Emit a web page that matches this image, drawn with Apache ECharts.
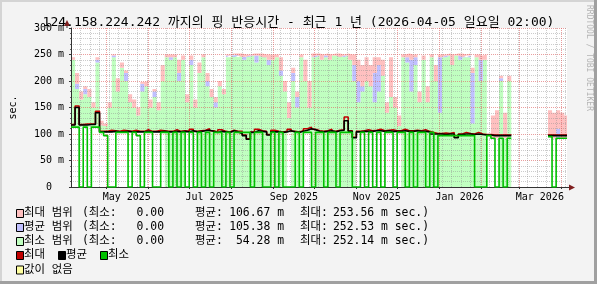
<!DOCTYPE html>
<html><head><meta charset="utf-8">
<script src="https://cdn.jsdelivr.net/npm/echarts@6/dist/echarts.min.js"></script>
<style>html,body{margin:0;padding:0;background:#f3f3f3}#c{width:597px;height:284px}</style>
</head><body><div id="c"></div>
<script>
// ---- data (one value per 3-day bucket starting 2025-04-05) ----
const startDate = [2025, 3, 5];
const dayCount = 366;
const bucketDays = 3;
const xTickLabels = ['May 2025', 'Jul 2025', 'Sep 2025', 'Nov 2025', 'Jan 2026', 'Mar 2026'];
const yTickValues = [0, 50, 100, 150, 200, 250, 300];

const rangeLow = [113,113,113,113,113,113,113,103,103,103,103,103,103,103,103,103,103,103,103,103,103,103,103,0,0,0,0,0,103,103,103,0,0,0,0,0,0,0,0,0,0,0,0,0,0,0,0,0,0,0,0,0,0,103,0,0,0,103,103,0,0,0,0,0,0,0,0,0,0,0,103,103,103,103,103,103,103,103,103,103,103,0,0,0,0,0,0,0,0,0,0,0,0,0,0,0,0,0,0,0,0,0,97,92,92,0,0,0,null,null,null,null,null,null,null,null,null,95,92,92,92,92];
const minRangeTop = [240,185,165,175,170,150,235,118,115,150,245,180,225,200,160,150,135,180,190,150,170,145,200,245,240,245,200,240,160,230,150,215,245,190,170,150,190,175,245,248,245,248,240,246,248,235,248,245,230,240,245,210,180,130,200,150,245,200,150,245,248,240,245,240,248,248,245,248,240,200,160,180,200,190,160,180,210,140,170,150,115,245,235,180,230,160,240,160,245,200,140,245,248,230,248,240,245,245,120,245,200,240,97,92,92,200,92,200,null,null,null,null,null,null,null,null,null,95,92,92,92,92];
const avgRangeTop = [240,195,165,185,170,150,240,118,115,150,248,180,225,215,160,150,135,195,190,150,180,145,200,245,245,245,215,240,160,240,150,215,245,200,170,160,190,175,248,248,250,248,245,246,248,248,248,245,240,240,245,220,180,130,215,170,245,200,150,245,248,240,248,240,248,248,245,248,240,230,200,190,200,190,215,230,210,140,170,150,115,245,245,240,245,160,240,160,245,200,245,245,248,230,248,248,245,248,215,245,240,240,97,92,92,205,92,200,null,null,null,null,null,null,null,null,null,95,92,110,92,92];
const maxRangeTop = [245,215,180,190,185,160,245,125,120,160,250,205,235,220,175,165,150,198,200,165,185,160,230,250,250,250,240,248,175,248,165,235,250,215,185,170,200,185,250,252,252,252,250,250,252,252,252,250,250,250,250,245,200,160,225,180,250,240,200,252,252,250,252,250,252,252,250,252,250,250,240,230,245,230,245,245,240,160,245,170,135,250,252,250,250,180,248,190,250,230,250,250,252,250,252,252,250,252,225,250,248,250,97,135,145,210,140,210,null,null,null,null,null,null,null,null,null,145,140,145,140,135];
const minLine = [113,113,0,113,0,113,113,103,97,0,0,103,103,103,0,103,97,0,103,103,0,0,103,103,0,103,0,103,0,103,0,103,0,103,0,103,103,0,103,0,103,103,103,103,0,103,103,0,0,103,0,103,0,0,0,103,0,103,103,0,103,103,0,103,103,0,103,103,103,0,0,103,0,103,0,103,0,103,103,0,103,103,0,103,0,103,103,0,103,0,97,97,97,97,97,97,97,97,97,0,0,0,97,92,0,92,0,92,null,null,null,null,null,null,null,null,null,95,0,92,92,92];
const avgLine = [117,150,117,117,118,118,140,104,104,104,105,104,104,105,104,104,104,104,105,104,104,104,105,104,104,105,104,105,104,106,104,105,106,107,105,103,105,104,103,106,104,101,97,90,103,106,105,104,98,104,104,103,104,106,104,103,105,107,110,108,105,104,105,106,104,106,107,125,105,93,104,105,105,105,106,106,105,106,105,105,105,106,105,105,106,105,105,104,100,100,100,99,100,100,93,99,100,100,99,100,99,98,98,97,97,97,97,97,null,null,null,null,null,null,null,null,null,97,97,97,97,97];
const maxLine = [118,153,118,119,119,119,143,105,105,107,106,105,107,106,105,107,105,105,108,105,105,107,106,105,105,108,105,106,105,109,105,106,107,110,106,104,108,105,104,107,105,105,98,91,104,109,106,105,99,107,105,104,105,109,105,104,106,110,113,109,106,105,106,109,105,107,108,132,106,94,105,106,108,106,107,109,106,107,108,106,106,109,106,106,107,106,108,105,103,101,101,102,101,103,94,100,103,101,100,103,100,99,99,98,98,98,98,98,null,null,null,null,null,null,null,null,null,98,98,98,98,98];

const legendRows = ['최대 범위', '평균 범위', '최소 범위'];
const statMin = ['0.00', '0.00', '0.00'];
const statAvg = ['106.67 m', '105.38 m', '54.28 m'];
const statMax = ['253.56 m sec.)', '252.53 m sec.)', '252.14 m sec.)'];
const titleText = '124.158.224.242 까지의 핑 반응시간 - 최근 1 년 (2026-04-05 일요일 02:00)';

// ---- build ----
const MONTHS = ['Jan','Feb','Mar','Apr','May','Jun','Jul','Aug','Sep','Oct','Nov','Dec'];
const t0 = Date.UTC(startDate[0], startDate[1], startDate[2]);
const cats = [];
for (let i = 0; i < dayCount; i++) cats.push(new Date(t0 + i * 86400000).toISOString().slice(0, 10));
const labelDates = xTickLabels.map(t => {
  const [m, y] = t.split(' ');
  return y + '-' + String(MONTHS.indexOf(m) + 1).padStart(2, '0') + '-16';
});
function pts(arr) {
  const out = arr.map((v, i) => [i * bucketDays, v]);
  out.push([dayCount - 1, arr[arr.length - 1]]);
  return out;
}
function diff(a, b) { return a.map((v, i) => (v == null || b[i] == null) ? null : v - b[i]); }

const FONT = "'DejaVu Sans Mono', 'Noto Sans CJK KR', monospace";
const COLORS = { maxR: '#ffc0c0', avgR: '#c0c0ff', minR: '#c0ffc0', max: '#c00000', avg: '#000000', min: '#00c000', none: '#ffffa0' };

const areaBase = { type: 'line', stack: 'r', step: 'end', symbol: 'none', silent: true, z: 2,
  lineStyle: { opacity: 0, width: 0 }, connectNulls: false, animation: false };

const graphics = [];
// frame
graphics.push({ type: 'rect', shape: { x: 0, y: 0, width: 597, height: 2 }, style: { fill: '#d4d4d4' }, silent: true });
graphics.push({ type: 'rect', shape: { x: 0, y: 0, width: 2, height: 284 }, style: { fill: '#d4d4d4' }, silent: true });
graphics.push({ type: 'rect', shape: { x: 0, y: 281, width: 597, height: 3 }, style: { fill: '#a0a0a0' }, silent: true });
graphics.push({ type: 'rect', shape: { x: 594, y: 0, width: 3, height: 284 }, style: { fill: '#a0a0a0' }, silent: true });
// axis extensions + arrows
graphics.push({ type: 'line', shape: { x1: 67, y1: 28, x2: 67, y2: 24 }, style: { stroke: '#333', lineWidth: 1 }, z: 5 });
graphics.push({ type: 'polygon', shape: { points: [[64, 26], [70, 26], [67, 20]] }, style: { fill: '#7f1f1f' }, z: 6 });
graphics.push({ type: 'line', shape: { x1: 567, y1: 187.5, x2: 570, y2: 187.5 }, style: { stroke: '#333', lineWidth: 1 }, z: 5 });
graphics.push({ type: 'polygon', shape: { points: [[569, 184.5], [569, 190.5], [575, 187.5]] }, style: { fill: '#7f1f1f' }, z: 6 });
// watermark
graphics.push({ type: 'text', x: 589, y: 5, rotation: -Math.PI / 2,
  style: { text: 'RRDTOOL / TOBI OETIKER', font: "8px 'DejaVu Sans Mono'", fill: '#b4b4b4', textAlign: 'left', textVerticalAlign: 'middle' } });
// legend
function box(x, y, c) {
  graphics.push({ type: 'rect', shape: { x: x + 0.5, y: y + 0.5, width: 7, height: 8 }, style: { fill: c, stroke: '#000', lineWidth: 1 } });
}
function txt(x, y, s, align) {
  graphics.push({ type: 'text', x: x, y: y, style: { text: s, font: "11.4px " + FONT, fill: '#000', textAlign: align || 'left', textVerticalAlign: 'middle' } });
}
const rowY = [213.5, 227.5, 241.5, 255.5, 270];
const rangeColors = [COLORS.maxR, COLORS.avgR, COLORS.minR];
legendRows.forEach((name, i) => {
  const y = rowY[i];
  box(16, y - 4.5, rangeColors[i]);
  txt(24, y, name);
  txt(82, y, '(최소:');
  txt(164, y, statMin[i], 'right');
  txt(195, y, '평균:');
  txt(284, y, statAvg[i], 'right');
  txt(300, y, '최대:');
  txt(333, y, statMax[i]);
});
box(16, rowY[3] - 4.5, COLORS.max); txt(24, rowY[3], '최대');
box(58, rowY[3] - 4.5, COLORS.avg); txt(66, rowY[3], '평균');
box(100, rowY[3] - 4.5, COLORS.min); txt(108, rowY[3], '최소');
box(16, rowY[4] - 4.5, COLORS.none); txt(24, rowY[4], '값이 없음');

const option = {
  backgroundColor: '#f3f3f3',
  animation: false,
  title: { text: titleText, left: 'center', top: 11, textStyle: { fontFamily: FONT, fontSize: 13, fontWeight: 'normal', color: '#000' } },
  grid: { left: 67, top: 28, width: 500, height: 159, containLabel: false, show: true, backgroundColor: '#ffffff', borderWidth: 0 },
  xAxis: [{
    type: 'category', data: cats, boundaryGap: false, z: 3,
    axisLine: { lineStyle: { color: '#333', width: 1 } },
    axisTick: { show: true, length: 2, interval: (i, v) => v.endsWith('-01'), lineStyle: { color: '#333' } },
    axisLabel: { interval: (i, v) => labelDates.indexOf(v) >= 0, formatter: v => { const k = labelDates.indexOf(v); return k >= 0 ? xTickLabels[k] : ''; },
      fontFamily: FONT, fontSize: 10, color: '#000', margin: 5 },
    splitLine: { show: true, interval: (i, v) => v.endsWith('-01'), lineStyle: { color: 'rgba(222,94,94,0.6)', type: 'dotted', width: 1 } }
  }, {
    type: 'category', data: cats, boundaryGap: false, position: 'top', z: 3,
    axisLine: { show: false }, axisTick: { show: false }, axisLabel: { show: false },
    splitLine: { show: true, interval: (i) => i > 0 && i % 7 === 0, lineStyle: { color: 'rgba(143,143,143,0.45)', type: 'dotted', width: 1 } }
  }],
  yAxis: {
    type: 'value', min: 0, max: 300, interval: 50, z: 3,
    name: 'sec.', nameLocation: 'middle', nameRotate: 90, nameGap: 53,
    nameTextStyle: { fontFamily: FONT, fontSize: 10, color: '#000' },
    axisLine: { show: true, lineStyle: { color: '#333', width: 1 } },
    axisTick: { show: true, length: 2, lineStyle: { color: '#333' } },
    minorTick: { show: true, splitNumber: 5, length: 1, lineStyle: { color: '#666' } },
    axisLabel: { formatter: v => yTickValues.indexOf(v) < 0 ? '' : (v === 0 ? '0  ' : v + ' m'), fontFamily: FONT, fontSize: 10, color: '#000', margin: 7 },
    splitLine: { show: true, lineStyle: { color: 'rgba(222,94,94,0.6)', type: 'dotted', width: 1 } },
    minorSplitLine: { show: true, lineStyle: { color: 'rgba(143,143,143,0.45)', type: 'dotted', width: 1 } }
  },
  series: [
    Object.assign({}, areaBase, { name: 'base', data: pts(rangeLow), areaStyle: { opacity: 0 } }),
    Object.assign({}, areaBase, { name: '최소 범위', data: pts(diff(minRangeTop, rangeLow)), areaStyle: { color: COLORS.minR, opacity: 1 } }),
    Object.assign({}, areaBase, { name: '평균 범위', data: pts(diff(avgRangeTop, minRangeTop)), areaStyle: { color: COLORS.avgR, opacity: 1 } }),
    Object.assign({}, areaBase, { name: '최대 범위', data: pts(diff(maxRangeTop, avgRangeTop)), areaStyle: { color: COLORS.maxR, opacity: 1 } }),
    { type: 'line', name: '최대', step: 'end', symbol: 'none', z: 4, data: pts(maxLine), lineStyle: { color: COLORS.max, width: 1.5 }, animation: false },
    { type: 'line', name: '평균', step: 'end', symbol: 'none', z: 4, data: pts(avgLine), lineStyle: { color: COLORS.avg, width: 1.6 }, animation: false },
    { type: 'line', name: '최소', step: 'end', symbol: 'none', z: 4, data: pts(minLine), lineStyle: { color: COLORS.min, width: 1.6 }, animation: false }
  ],
  graphic: graphics
};
const chart = echarts.init(document.getElementById('c'), null, { renderer: 'canvas' });
chart.setOption(option);
</script>
</body></html>
